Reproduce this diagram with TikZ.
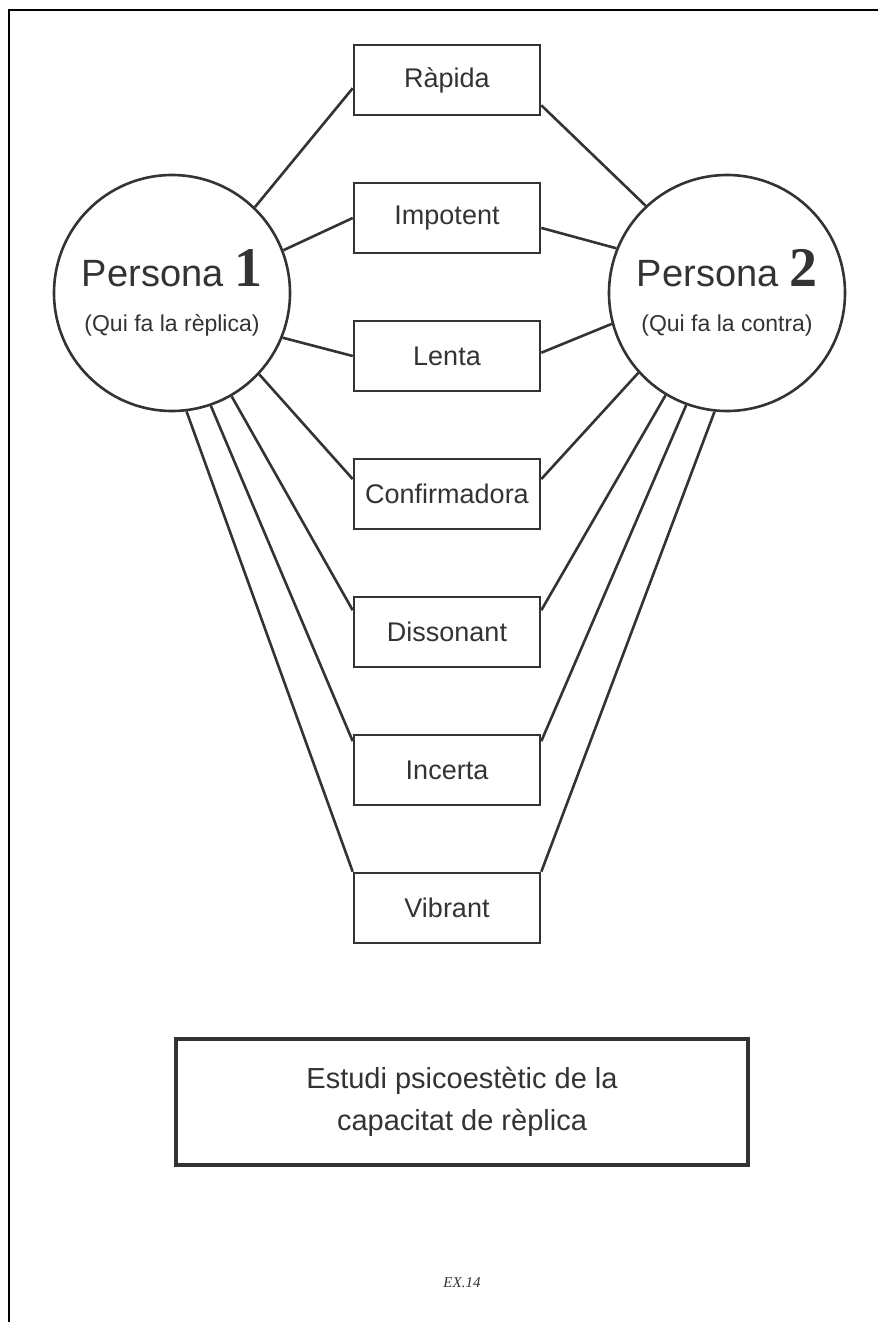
\documentclass[tikz,border=0pt]{standalone}
\usepackage{fontspec}
\setmainfont{Liberation Sans}
\newfontfamily\numfont{Liberation Serif}
\tikzset{
  lk/.style={line width=2.6pt,draw=black!80},
  pers/.style={circle,lk,minimum size=236pt,inner sep=0pt,align=center,text=black!80,font=\fontsize{38}{45}\selectfont},
  att/.style={rectangle,lk,minimum width=186pt,minimum height=70pt,inner sep=0pt,text=black!80,font=\fontsize{27}{30}\selectfont},
  ttl/.style={rectangle,line width=3.4pt,draw=black!80,minimum width=572pt,minimum height=126pt,align=center,text=black!80,font=\fontsize{29}{42}\selectfont},
}
\begin{document}
\begin{tikzpicture}[x=1pt,y=-1pt]
\useasboundingbox (0,0) rectangle (878,1322);
\draw[line width=2pt] (9,1322) -- (9,10) -- (878,10);
\node[pers] (P1) at (172,293) {Persona {\numfont\bfseries\fontsize{56}{45}\selectfont 1}\\{\fontsize{23}{26}\selectfont (Qui fa la rèplica)}};
\node[pers] (P2) at (727,293) {Persona {\numfont\bfseries\fontsize{56}{45}\selectfont 2}\\{\fontsize{23}{26}\selectfont (Qui fa la contra)}};
\node[att] (R) at (447,80) {Ràpida}; \node[att] (I) at (447,218) {Impotent};
\node[att] (L) at (447,356) {Lenta}; \node[att] (C) at (447,494) {Confirmadora};
\node[att] (D) at (447,632) {Dissonant}; \node[att] (N) at (447,770) {Incerta};
\node[att] (V) at (447,908) {Vibrant};
\draw[lk] (P1.46)--(R.185); \draw[lk] (P1.21)--(I.west); \draw[lk] (P1.-22)--(L.west);
\draw[lk] (P1.-43)--(C.171); \draw[lk] (P1.-60)--(D.167); \draw[lk] (P1.-71)--(N.163);
\draw[lk] (P1.-83)--(V.north west);
\draw[lk] (P2.133)--(R.-15); \draw[lk] (P2.158)--(I.-6); \draw[lk] (P2.195)--(L.2);
\draw[lk] (P2.222)--(C.9); \draw[lk] (P2.239)--(D.13); \draw[lk] (P2.250)--(N.17);
\draw[lk] (P2.264)--(V.north east);
\node[ttl] (T) at (462,1102) {Estudi psicoestètic de la\\capacitat de rèplica};
\node[font=\fontsize{15}{18}\selectfont\numfont\itshape,text=black!80] (X) at (462,1283) {EX.14};
\end{tikzpicture}
\end{document}
